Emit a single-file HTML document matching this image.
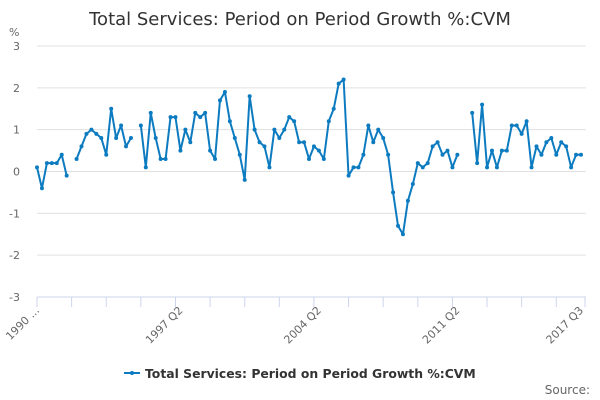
<!DOCTYPE html>
<html><head><meta charset="utf-8"><style>
body{margin:0;background:#fff;font-family:"DejaVu Sans","Liberation Sans",sans-serif}
svg{display:block}
</style></head><body>
<svg id="c" width="600" height="400" font-family="DejaVu Sans, Liberation Sans, sans-serif">
<text x="300" y="25" text-anchor="middle" font-size="18" fill="#333">Total Services: Period on Period Growth %:CVM</text>
<text x="9" y="36" font-size="11" fill="#666">%</text>
<g id="grid"></g><g id="xax"></g><g id="series"></g>
<g>
<line x1="124" y1="373" x2="140" y2="373" stroke="#0d7bc0" stroke-width="2"/>
<circle cx="132" cy="373" r="2" fill="#0d7bc0"/>
<text x="145" y="378" font-size="12.4" font-weight="bold" fill="#333">Total Services: Period on Period Growth %:CVM</text>
</g>
<text x="590" y="394" text-anchor="end" font-size="12" fill="#666">Source:</text>
</svg>
<script>
const values=[0.1,-0.4,0.2,0.2,0.2,0.4,-0.1,null,0.3,0.6,0.9,1.0,0.9,0.8,0.4,1.5,0.8,1.1,0.6,0.8,null,1.1,0.1,1.4,0.8,0.3,0.3,1.3,1.3,0.5,1.0,0.7,1.4,1.3,1.4,0.5,0.3,1.7,1.9,1.2,0.8,0.4,-0.2,1.8,1.0,0.7,0.6,0.1,1.0,0.8,1.0,1.3,1.2,0.7,0.7,0.3,0.6,0.5,0.3,1.2,1.5,2.1,2.2,-0.1,0.1,0.1,0.4,1.1,0.7,1.0,0.8,0.4,-0.5,-1.3,-1.5,-0.7,-0.3,0.2,0.1,0.2,0.6,0.7,0.4,0.5,0.1,0.4,null,null,1.4,0.2,1.6,0.1,0.5,0.1,0.5,0.5,1.1,1.1,0.9,1.2,0.1,0.6,0.4,0.7,0.8,0.4,0.7,0.6,0.1,0.4,0.4];
const yTicks=[3,2,1,0,-1,-2,-3];
const xLabels=[[0,"1990 ..."],[29,"1997 Q2"],[57,"2004 Q2"],[85,"2011 Q2"],[110,"2017 Q3"]];
const NS="http://www.w3.org/2000/svg";
const x0=37,x1=581,yTop=46,yBot=297;
const X=i=>x0+(x1-x0)*i/(values.length-1);
const Y=v=>yTop+(3-v)*(yBot-yTop)/6;
function mk(t,a,p){const e=document.createElementNS(NS,t);for(const k in a)e.setAttribute(k,a[k]);p.appendChild(e);return e;}
const grid=document.getElementById('grid');
yTicks.forEach(v=>{
 if(v!==-3){const l=mk('line',{x1:x0,x2:586,y1:Y(v),y2:Y(v),stroke:'#e0e0e0'},grid);
 
 }
 const t=mk('text',{x:20,y:Y(v)+4,'text-anchor':'end','font-size':11,fill:'#666'},grid);
 
 
 t.textContent=v;
});
const xa=document.getElementById('xax');
const ax=mk('line',{x1:x0,x2:586,y1:yBot,y2:yBot,stroke:'#ccd6eb'},xa);


for(let i=0;i<values.length;i+=7){mk('line',{x1:X(i),x2:X(i),y1:yBot,y2:yBot+10,stroke:'#ccd6eb'},xa);}
mk('line',{x1:585,x2:585,y1:yBot,y2:yBot+10,stroke:'#ccd6eb'},xa);
xLabels.forEach(([i,s])=>{
 const t=mk('text',{x:X(i)+3,y:yBot+14,'text-anchor':'end','font-size':11,fill:'#666',transform:`rotate(-45 ${X(i)+3} ${yBot+14})`},xa);
 
 
 t.textContent=s;
});
const sg=document.getElementById('series');
let d='',pen=false;
values.forEach((v,i)=>{if(v===null){pen=false;return;}d+=(pen?'L':'M')+X(i)+' '+Y(v)+' ';pen=true;});
const p=mk('path',{d:d,fill:'none',stroke:'#0d7bc0','stroke-width':2,'stroke-linejoin':'round'},sg);


values.forEach((v,i)=>{if(v===null)return;
 const c=mk('circle',{cx:X(i),cy:Y(v),r:2,fill:'#0d7bc0'},sg);
 
 
});
</script>
</body></html>
